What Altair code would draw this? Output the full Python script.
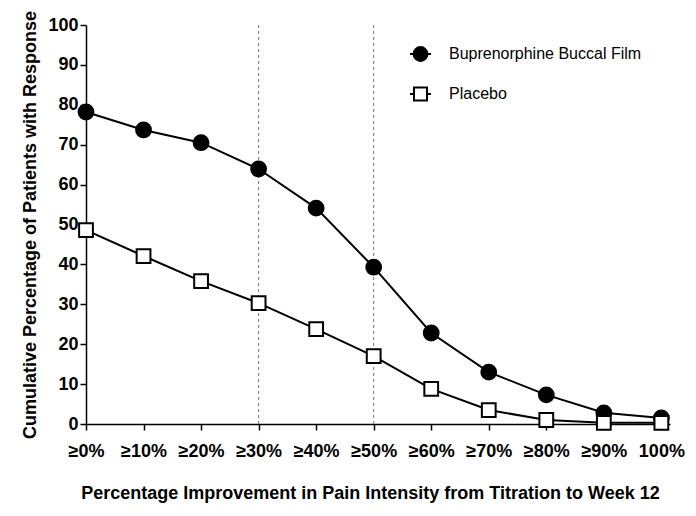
import json
import altair as alt
import pandas as pd

labels = ["≥0%", "≥10%", "≥20%", "≥30%", "≥40%", "≥50%", "≥60%", "≥70%", "≥80%", "≥90%", "100%"]
idx = list(range(len(labels)))
bup = [78.2, 73.7, 70.5, 63.9, 54.1, 39.3, 22.8, 13.0, 7.3, 2.8, 1.5]
placebo = [48.6, 42.1, 35.8, 30.3, 23.8, 17.0, 8.8, 3.5, 1.0, 0.3, 0.3]
series = ["Buprenorphine Buccal Film", "Placebo"]
ref_lines = [3, 5]

rows = []
for i, b, p in zip(idx, bup, placebo):
    rows.append({"x": i, "y": b, "series": series[0]})
    rows.append({"x": i, "y": p, "series": series[1]})
df = pd.DataFrame(rows)
ref_df = pd.DataFrame({"x": ref_lines})

FONT = "Liberation Sans"
label_expr = json.dumps(labels, ensure_ascii=False) + "[datum.value]"

xscale = alt.Scale(domain=[0, 10.15], nice=False, zero=False)
yscale = alt.Scale(domain=[0, 100], nice=False)

xaxis = alt.Axis(values=idx, labelExpr=label_expr, title="Percentage Improvement in Pain Intensity from Titration to Week 12",
                 grid=False, tickSize=6, labelPadding=12, labelFontSize=18, labelFontWeight="bold",
                 titleFontSize=18, titleFontWeight="bold", titlePadding=24, labelFlush=False,
                 titleX=284, titleAlign="center", titleAnchor="start")
yaxis = alt.Axis(values=list(range(0, 101, 10)), title="Cumulative Percentage of Patients with Response",
                 grid=False, tickSize=6, labelPadding=2, labelFontSize=18, labelFontWeight="bold",
                 titleFontSize=18, titleFontWeight="bold", titlePadding=8)

base = alt.Chart(df)

rules = alt.Chart(ref_df).mark_rule(color="#777777", strokeDash=[3, 3], strokeWidth=1).encode(
    x=alt.X("x:Q", scale=xscale, axis=xaxis),
    y=alt.value(0),
    y2=alt.value(399),
)

lines = base.mark_line(interpolate="linear", color="black", strokeWidth=2).encode(
    x=alt.X("x:Q", scale=xscale, axis=xaxis),
    y=alt.Y("y:Q", scale=yscale, axis=yaxis),
    detail="series:N",
)

points = base.mark_point(stroke="black", strokeWidth=2, opacity=1).encode(
    x=alt.X("x:Q", scale=xscale, axis=xaxis),
    y=alt.Y("y:Q", scale=yscale, axis=yaxis),
    shape=alt.Shape("series:N", scale=alt.Scale(domain=series, range=["circle", "square"]), legend=None),
    fill=alt.Fill("series:N", scale=alt.Scale(domain=series, range=["black", "white"]), legend=None),
    size=alt.Size("series:N", scale=alt.Scale(domain=series, range=[220, 190]), legend=None),
)

circ_path = "M-1,0L1,0M-0.66,0A0.66,0.66 0 1,0 0.66,0A0.66,0.66 0 1,0 -0.66,0Z"
sq_path = "M-1,0L-0.62,0M0.62,0L1,0M-0.62,-0.62L0.62,-0.62L0.62,0.62L-0.62,0.62Z"


def legend_layer(name, path, fill, ly):
    leg = alt.Legend(
        title=None, orient="none", legendX=323, legendY=ly, padding=0,
        labelOffset=17, labelFontSize=16, labelFont=FONT, labelColor="black", labelLimit=400,
        symbolStrokeWidth=2, symbolSize=441, symbolOpacity=1,
        symbolFillColor=fill, symbolType=path,
    )
    return base.mark_point(fill=fill, strokeWidth=2, opacity=1, filled=False).encode(
        x=alt.X("x:Q", scale=xscale, axis=xaxis),
        y=alt.Y("y:Q", scale=yscale, axis=yaxis),
        fill=alt.value(fill),
        stroke=alt.Stroke("series:N", scale=alt.Scale(domain=[name], range=["black"]), legend=leg),
    ).transform_filter("false")


leg1 = legend_layer(series[0], circ_path, "black", 17.5)
leg2 = legend_layer(series[1], sq_path, "white", 57.5)

chart = alt.layer(rules, lines, points, leg1, leg2).resolve_scale(
    stroke="independent"
).properties(
    width=584, height=399,
    autosize=alt.AutoSizeParams(type="none"),
    padding={"left": 78, "top": 17, "right": 18, "bottom": 84},
    background="white",
).configure_view(stroke=None).configure_axis(
    labelFont=FONT, titleFont=FONT, domainColor="black", tickColor="black",
    labelColor="black", titleColor="black", domainWidth=1.5, tickWidth=1.5,
)

chart.save("out.html", embed_options={"renderer": "svg", "actions": False})
